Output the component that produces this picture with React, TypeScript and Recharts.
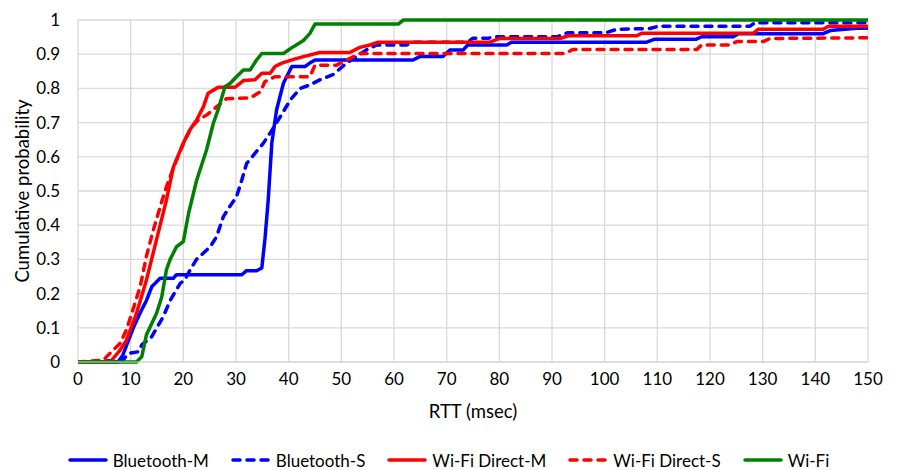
import { CartesianGrid, Legend, Line, LineChart, XAxis, YAxis } from "recharts"

// RTT CDF per link type as [msec, probability]
const bluetoothM: [number, number][] = [
  [0, 0], [7.6, 0], [8.5, 0.02], [10.5, 0.1], [12, 0.15], [13, 0.18], [14, 0.22], [15.6, 0.245],
  [18.1, 0.245], [18.7, 0.255], [31.1, 0.255], [32, 0.267], [33.9, 0.267], [34.9, 0.275],
  [35.5, 0.36], [36.1, 0.47], [36.8, 0.64], [37.7, 0.737], [39, 0.815], [40.6, 0.864],
  [43.1, 0.864], [44, 0.874], [45, 0.883], [63.6, 0.883], [64.9, 0.893], [69.3, 0.893],
  [70.6, 0.912], [73.1, 0.912], [74, 0.927], [81.4, 0.927], [82.3, 0.935], [108, 0.935],
  [109.5, 0.944], [117.4, 0.944], [118.4, 0.951], [124.4, 0.951], [125.4, 0.96], [141.5, 0.96],
  [142.8, 0.969], [147.8, 0.976], [150, 0.976],
]

const bluetoothS: [number, number][] = [
  [0, 0], [8.5, 0.005], [9.6, 0.025], [11.5, 0.03], [12.1, 0.05], [14, 0.074], [16.2, 0.133],
  [17.5, 0.18], [19.4, 0.23], [20.3, 0.24], [21.3, 0.27], [22.5, 0.3], [25.1, 0.337],
  [26.3, 0.366], [27.6, 0.425], [28.8, 0.454], [30.1, 0.483], [31.1, 0.532], [32, 0.58],
  [33.6, 0.61], [35.2, 0.64], [36.5, 0.67], [38.4, 0.717], [40.3, 0.766], [42.2, 0.8],
  [44, 0.81], [45.9, 0.825], [48.4, 0.84], [51, 0.874], [52.9, 0.893], [54.7, 0.912],
  [56.7, 0.927], [62.4, 0.927], [63.5, 0.935], [74, 0.935], [75, 0.947], [78, 0.947],
  [79, 0.951], [91, 0.951], [93, 0.963], [100.3, 0.963], [102.3, 0.973], [108.6, 0.975],
  [110.2, 0.982], [127.6, 0.982], [128.5, 0.992], [150, 0.992],
]

const wifiDirectM: [number, number][] = [
  [0, 0], [6.1, 0], [8, 0.035], [9.2, 0.064], [11.1, 0.142], [13, 0.24], [14.9, 0.357],
  [16.8, 0.474], [18.1, 0.57], [20, 0.64], [21.3, 0.68], [22.5, 0.707], [23.8, 0.746],
  [24.7, 0.786], [26.6, 0.803], [29.8, 0.803], [31.4, 0.823], [33.6, 0.825], [34.9, 0.844],
  [36.5, 0.844], [37.4, 0.864], [38.7, 0.874], [40.9, 0.885], [42.8, 0.893], [45.9, 0.905],
  [51.6, 0.905], [53.5, 0.92], [55.4, 0.927], [57, 0.935], [78.2, 0.935], [80.1, 0.946],
  [91.5, 0.946], [93.1, 0.954], [106.1, 0.954], [107, 0.961], [128.2, 0.961], [129.2, 0.973],
  [141.5, 0.973], [142.5, 0.982], [150, 0.982],
]

const wifiDirectS: [number, number][] = [
  [0, 0], [4.8, 0.005], [5.4, 0.015], [6.7, 0.035], [8, 0.055], [9.2, 0.094], [10.2, 0.142],
  [11.8, 0.22], [13, 0.31], [14.3, 0.386], [15.6, 0.454], [16.8, 0.513], [17.5, 0.542],
  [18.7, 0.59], [20.3, 0.65], [21.6, 0.688], [22.8, 0.707], [24.4, 0.722], [26.3, 0.746],
  [28.2, 0.77], [32.7, 0.772], [34.6, 0.79], [35.5, 0.82], [37.4, 0.834], [44, 0.834],
  [45, 0.868], [49.1, 0.868], [51, 0.883], [53.5, 0.902], [92.5, 0.902], [94, 0.914],
  [117.5, 0.914], [118.4, 0.927], [123.8, 0.927], [125.1, 0.937], [130.1, 0.937],
  [131.4, 0.946], [150, 0.948],
]

const wifi: [number, number][] = [
  [0, 0], [11.1, 0], [12.1, 0.015], [13, 0.08], [14.9, 0.142], [15.9, 0.19], [16.8, 0.27],
  [17.5, 0.3], [18.7, 0.337], [20, 0.352], [21, 0.435], [22.5, 0.53], [24.4, 0.62],
  [25.7, 0.698], [26.6, 0.737], [27.9, 0.805], [28.9, 0.815], [30.1, 0.834], [31.4, 0.854],
  [32.7, 0.854], [33.9, 0.883], [34.9, 0.902], [39, 0.902], [40.9, 0.922], [42.8, 0.94],
  [44, 0.96], [45, 0.988], [60.8, 0.988], [61.8, 1], [150, 1],
]

const xTicks = [0, 10, 20, 30, 40, 50, 60, 70, 80, 90, 100, 110, 120, 130, 140, 150]
const yTicks = [0, 0.1, 0.2, 0.3, 0.4, 0.5, 0.6, 0.7, 0.8, 0.9, 1]

const font = "Lato, 'Liberation Sans', sans-serif"

const series = [
  { name: "Bluetooth-M", points: bluetoothM, color: "#0000ff", dashed: false },
  { name: "Bluetooth-S", points: bluetoothS, color: "#0000ff", dashed: true },
  { name: "Wi-Fi Direct-M", points: wifiDirectM, color: "#ff0000", dashed: false },
  { name: "Wi-Fi Direct-S", points: wifiDirectS, color: "#ff0000", dashed: true },
  { name: "Wi-Fi", points: wifi, color: "#008000", dashed: false },
]

const toRows = (pts: [number, number][]) => pts.map(([x, y]) => ({ x, y }))

function LegendContent() {
  return (
    <div
      style={{
        display: "flex",
        justifyContent: "center",
        alignItems: "center",
        height: 20,
        paddingLeft: 29,
        fontFamily: font,
        fontSize: 17,
        color: "#000",
      }}
    >
      {series.map((s) => (
        <div key={s.name} style={{ display: "flex", alignItems: "center", margin: "0 11px" }}>
          <svg width={40} height={8} style={{ marginRight: 5 }}>
            <line
              x1={2}
              y1={4}
              x2={38}
              y2={4}
              stroke={s.color}
              strokeWidth={3.5}
              strokeLinecap="round"
              strokeDasharray={s.dashed ? "7 7" : undefined}
            />
          </svg>
          <span>{s.name}</span>
        </div>
      ))}
    </div>
  )
}

export default function App() {
  return (
    <div style={{ position: "absolute", left: 0, top: 0, width: 897, height: 470, background: "#fff" }}>
      <LineChart width={897} height={470} margin={{ top: 20, right: 29, left: 0, bottom: 0 }}>
        <CartesianGrid stroke="#d9d9d9" strokeWidth={1.3} />
        <XAxis
          type="number"
          dataKey="x"
          domain={[0, 150]}
          ticks={xTicks}
          allowDataOverflow
          height={88}
          tickLine={false}
          axisLine={{ stroke: "#d9d9d9" }}
          tickMargin={5}
          tick={{ fill: "#000", fontSize: 17, fontFamily: font }}
          label={(props: any) => {
            const vb = props.viewBox
            return (
              <text x={vb.x + vb.width / 2} y={vb.y + 56} textAnchor="middle" fill="#000" fontSize={18.5} fontFamily={font}>
                RTT (msec)
              </text>
            )
          }}
        />
        <YAxis
          type="number"
          domain={[0, 1]}
          ticks={yTicks}
          width={78}
          tickLine={false}
          axisLine={false}
          tickMargin={12}
          tickFormatter={(v: number) => String(v)}
          tick={{ fill: "#000", fontSize: 17, fontFamily: font }}
          label={(props: any) => {
            const vb = props.viewBox
            const cx = vb.x + 22
            const cy = vb.y + vb.height / 2
            return (
              <text
                x={cx}
                y={cy}
                transform={`rotate(-90 ${cx} ${cy})`}
                textAnchor="middle"
                dominantBaseline="central"
                fill="#000"
                fontSize={18.5}
                fontFamily={font}
              >
                Cumulative probability
              </text>
            )
          }}
        />
        <Legend verticalAlign="bottom" content={() => <LegendContent />} />
        {series.map((s) => (
          <Line
            key={s.name}
            data={toRows(s.points)}
            dataKey="y"
            name={s.name}
            type="linear"
            stroke={s.color}
            strokeWidth={3.5}
            strokeDasharray={s.dashed ? "7 7" : undefined}
            strokeLinecap="round"
            strokeLinejoin="round"
            dot={false}
            activeDot={false}
            isAnimationActive={false}
          />
        ))}
      </LineChart>
    </div>
  )
}
